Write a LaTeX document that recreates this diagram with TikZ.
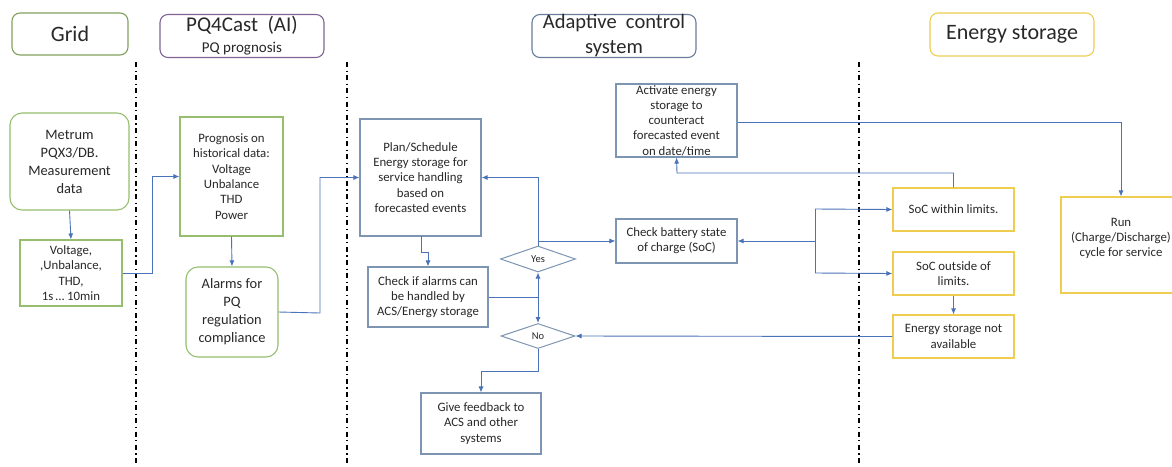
\documentclass[tikz,border=0pt]{standalone}
\usepackage{fontspec}
\setmainfont{Carlito}
\usetikzlibrary{shapes.geometric,arrows.meta}
\definecolor{grn}{RGB}{150,190,110}
\definecolor{prp}{RGB}{128,100,150}
\definecolor{acsc}{RGB}{105,125,155}
\definecolor{bgr}{RGB}{125,148,178}
\definecolor{ylw}{RGB}{238,205,80}
\definecolor{arr}{RGB}{75,115,185}
\definecolor{txt}{RGB}{40,40,40}
\tikzset{
  hdr/.style={draw, line width=1.1pt, rounded corners=8pt, align=center, text=txt, inner sep=0pt},
  gbox/.style={draw=grn, line width=1.1pt, align=center, text=txt, inner sep=0pt, font=\fontsize{12.8}{15.3}\selectfont},
  gbig/.style={gbox, rounded corners=12pt, font=\fontsize{14.4}{18}\selectfont},
  bbox/.style={draw=bgr, line width=1.1pt, align=center, text=txt, inner sep=0pt, font=\fontsize{12.8}{15.3}\selectfont},
  ybox/.style={draw=ylw, line width=1.1pt, align=center, text=txt, inner sep=0pt, font=\fontsize{12.8}{15.3}\selectfont},
  dec/.style={draw=bgr, line width=1pt, diamond, aspect=2.9, inner sep=0pt, text=txt, font=\fontsize{10.5}{12}\selectfont},
  conn/.style={draw=arr, line width=0.9pt},
  flow/.style={conn, -{Latex[length=6pt,width=5pt]}},
  lane/.style={line width=1.8pt, dash pattern=on 5pt off 3.5pt on 1.2pt off 3.5pt},
}
\begin{document}
\begin{tikzpicture}[x=1pt,y=-1pt]
\useasboundingbox (0,0) rectangle (1172,466);
\fill[white] (0,0) rectangle (1172,466);

% swim-lane separators
\draw[lane] (136,62) -- (136,466);
\draw[lane] (347,62) -- (347,466);
\draw[lane] (859,62) -- (859,466);

% lane headers
\node[hdr, draw=grn!85!black, minimum width=116pt, minimum height=42pt, font=\fontsize{22}{25}\selectfont] (hgrid) at (70,34) {Grid};
\node[hdr, draw=prp, minimum width=164pt, minimum height=43pt, font=\fontsize{15}{21}\selectfont] (hpq) at (242,36)
  {{\fontsize{21}{21}\selectfont PQ4Cast\ \ (AI)}\\PQ prognosis};
\node[hdr, draw=acsc, minimum width=164pt, minimum height=43pt, font=\fontsize{20.5}{25}\selectfont] (hacs) at (614,36)
  {Adaptive\ \ control\\system};
\node[hdr, draw=ylw, minimum width=164pt, minimum height=43pt, font=\fontsize{22}{25}\selectfont] (hes) at (1012,34.5) {Energy storage};

% grid lane
\node[gbig, minimum width=119pt, minimum height=97pt] (metrum) at (69.5,161.5)
  {Metrum\\PQX3/DB.\\Measurement\\data};
\node[gbox, minimum width=102pt, minimum height=66pt] (volt) at (71,273)
  {Voltage,\\,Unbalance,\\THD,\\1s\,\dots\ 10min};

% prognosis lane
\node[gbox, minimum width=103pt, minimum height=119pt] (prog) at (231.5,176.5)
  {Prognosis on\\historical data:\\Voltage\\Unbalance\\THD\\Power};
\node[gbig, minimum width=92pt, minimum height=90pt] (alarm) at (232,312)
  {Alarms for\\PQ\\regulation\\compliance};

% adaptive control lane
\node[bbox, minimum width=121pt, minimum height=117pt] (plan) at (420.5,177.5)
  {Plan/Schedule\\Energy storage for\\service handling\\based on\\forecasted events};
\node[bbox, minimum width=120pt, minimum height=60pt] (chk) at (428,297)
  {Check if alarms can\\be handled by\\ACS/Energy storage};
\node[dec, minimum width=75pt, minimum height=26pt] (yes) at (538,259) {Yes};
\node[dec, minimum width=74pt, minimum height=25pt] (no) at (538,336) {No};
\node[bbox, minimum width=120pt, minimum height=61pt] (fb) at (481,423.5)
  {Give feedback to\\ACS and other\\systems};
\node[bbox, minimum width=121pt, minimum height=44pt] (bat) at (676.5,241)
  {Check battery state\\of charge (SoC)};
\node[bbox, minimum width=121pt, minimum height=73pt] (act) at (676.5,120.5)
  {Activate energy\\storage to\\counteract\\forecasted event\\on date/time};

% energy storage lane
\node[ybox, minimum width=121pt, minimum height=43pt] (within) at (953.5,209.5) {SoC within limits.};
\node[ybox, minimum width=121pt, minimum height=43pt] (outside) at (953.5,273.5) {SoC outside of\\limits.};
\node[ybox, minimum width=121pt, minimum height=43pt] (na) at (953.5,336.5) {Energy storage not\\available};
\node[ybox, minimum width=120pt, minimum height=96pt] (run) at (1121,245)
  {Run\\(Charge/Discharge)\\cycle for service\\~};

% junction points
\coordinate (j1) at (538,297);
\coordinate (j2) at (815,241);

% connectors
\draw[flow] (metrum.south) -- (volt.north);
\draw[flow] (volt.east) -- (152,273) |- (prog.west);
\draw[flow] (prog.south) -- (alarm.north);
\draw[flow] (alarm.east) -- (320,313) |- (plan.west);
\draw[flow] (421,236) -- (421,252) -| (chk.north);
\draw[conn] (chk.east) -- (j1);
\draw[flow] (j1) -- (yes.south);
\draw[flow] (j1) -- (no.north);
\draw[flow] (yes.north) |- (plan.east);
\draw[flow] (538,241) -- (bat.west);
\draw[flow] (j2) -- (bat.east);
\draw[conn] (815,209) -- (815,273);
\draw[flow] (815,209) -- (within.west);
\draw[flow] (815,273) -- (outside.west);
\draw[flow] (within.north) |- (677,173) -- (act.south);
\draw[flow] (act.east |- 0,122) -| (run.north);
\draw[flow] (outside.south) -- (na.north);
\draw[flow] (na.west) -- (no.east);
\draw[flow] (no.south) -- (538,371) -| (fb.north);
\end{tikzpicture}
\end{document}
